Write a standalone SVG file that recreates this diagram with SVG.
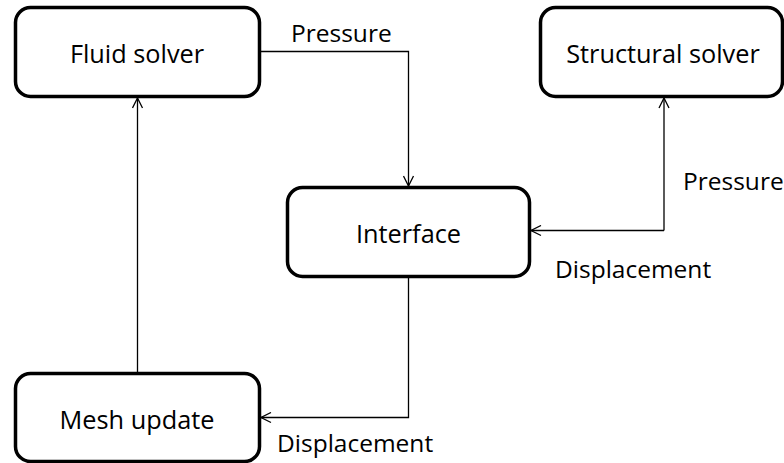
<svg xmlns="http://www.w3.org/2000/svg" width="784" height="463" viewBox="0 0 784 463">
  <style>
    .box { fill: #ffffff; stroke: #000000; stroke-width: 3.5; }
    .label { font-family: "Open Sans", "Liberation Sans", sans-serif; font-size: 24.5px; fill: #000000; }
    .name { font-size: 25.3px; text-anchor: middle; }
    .wire { fill: none; stroke: #000000; stroke-width: 1.3; }
  </style>
  <defs>
    <marker id="open-arrow" viewBox="0 0 12 12" refX="11" refY="6" markerWidth="12" markerHeight="12" markerUnits="userSpaceOnUse" orient="auto">
      <path d="M1,1 L11,6 L1,11" fill="none" stroke="#000000" stroke-width="1.3"/>
    </marker>
  </defs>

  <rect width="784" height="463" fill="#ffffff"/>

  <g id="connectors">
    <path class="wire" d="M260,51.5 H408.5 V186" marker-end="url(#open-arrow)"/>
    <path class="wire" d="M664,230.5 V98" marker-end="url(#open-arrow)"/>
    <path class="wire" d="M664,230.5 H531" marker-end="url(#open-arrow)"/>
    <path class="wire" d="M408.5,277 V417.5 H261" marker-end="url(#open-arrow)"/>
    <path class="wire" d="M137.5,373 V98" marker-end="url(#open-arrow)"/>
    <text class="label" x="291" y="42">Pressure</text>
    <text class="label" x="683" y="190">Pressure</text>
    <text class="label" x="555" y="278">Displacement</text>
    <text class="label" x="277" y="452">Displacement</text>
  </g>

  <g id="fluid-solver">
    <rect class="box" x="15.5" y="7.5" width="244" height="89" rx="15"/>
    <text class="label name" x="137" y="63">Fluid solver</text>
  </g>

  <g id="structural-solver">
    <rect class="box" x="540.5" y="7.5" width="242" height="89" rx="15"/>
    <text class="label name" x="663" y="63">Structural solver</text>
  </g>

  <g id="interface">
    <rect class="box" x="287.5" y="187.5" width="242" height="89" rx="15"/>
    <text class="label name" x="408.5" y="243">Interface</text>
  </g>

  <g id="mesh-update">
    <rect class="box" x="15.5" y="373.5" width="244" height="88" rx="15"/>
    <text class="label name" x="137" y="429">Mesh update</text>
  </g>
</svg>
